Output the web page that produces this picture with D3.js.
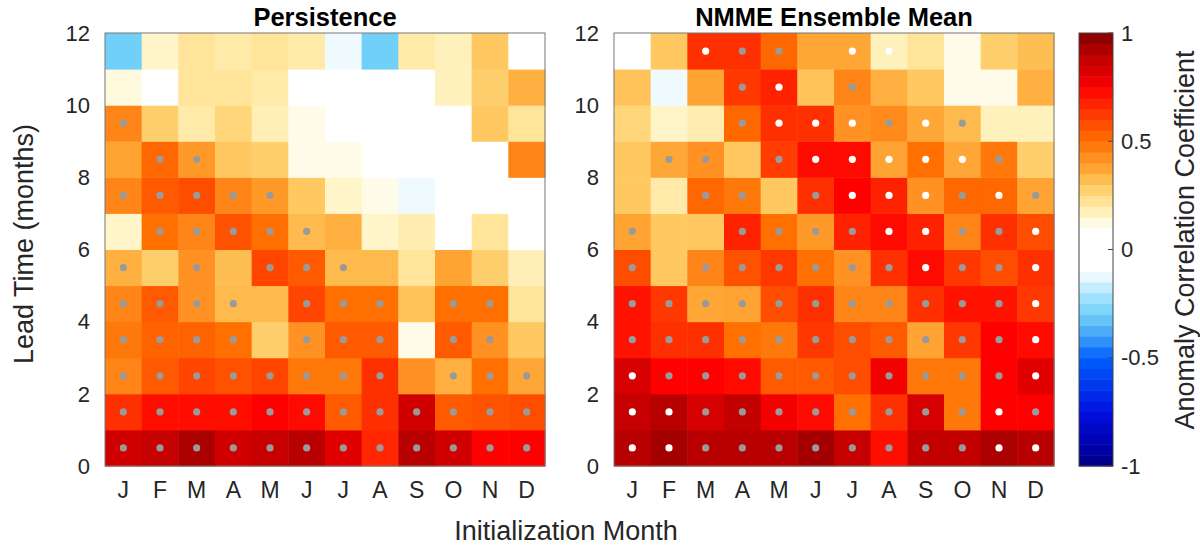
<!DOCTYPE html>
<html lang="en">
<head>
    <meta charset="UTF-8">
    <title>Anomaly correlation</title>
    <script type="text/javascript" src="https://cdn.jsdelivr.net/npm/d3@7"></script>
    <style>
        body {
            margin: 0;
            background: #fff;
        }

        text {
            font-family: "Liberation Sans", Arial, sans-serif;
            fill: #262626;
        }

        .title {
            font-weight: bold;
            font-size: 25.5px;
            fill: #000;
        }

        .tick-label {
            font-size: 22px;
        }

        .month-label {
            font-size: 23px;
        }

        .axis-label {
            font-size: 27px;
        }
    </style>
</head>
<body>
<svg width="1200" height="546"></svg>

<script>
    var months = ["J", "F", "M", "A", "M", "J", "J", "A", "S", "O", "N", "D"];
    var leadTicks = [0, 2, 4, 6, 8, 10, 12];
    var cbarTicks = [-1, -0.5, 0, 0.5, 1];

    // rows = lead 0 (bottom) .. lead 11 (top), columns = Jan .. Dec
    var persistence = [
        [0.85, 0.87, 0.93, 0.85, 0.87, 0.9, 0.8, 0.67, 0.9, 0.85, 0.75, 0.75],
        [0.65, 0.72, 0.72, 0.72, 0.75, 0.73, 0.55, 0.65, 0.85, 0.55, 0.57, 0.58],
        [0.45, 0.55, 0.6, 0.57, 0.6, 0.48, 0.48, 0.65, 0.42, 0.35, 0.5, 0.37],
        [0.48, 0.53, 0.53, 0.5, 0.28, 0.42, 0.55, 0.55, 0.12, 0.55, 0.42, 0.3],
        [0.45, 0.55, 0.42, 0.33, 0.33, 0.6, 0.5, 0.5, 0.31, 0.5, 0.5, 0.22],
        [0.35, 0.28, 0.42, 0.32, 0.6, 0.55, 0.33, 0.33, 0.22, 0.38, 0.28, 0.18],
        [0.15, 0.5, 0.45, 0.57, 0.5, 0.33, 0.35, 0.15, 0.19, 0.02, 0.22, 0.02],
        [0.45, 0.55, 0.58, 0.45, 0.4, 0.3, 0.15, 0.12, -0.12, 0.03, 0.01, 0.02],
        [0.38, 0.52, 0.4, 0.3, 0.28, 0.12, 0.12, 0.03, 0.02, 0.01, 0.04, 0.45],
        [0.45, 0.28, 0.2, 0.26, 0.18, 0.12, 0.02, -0.02, 0.01, 0.03, 0.3, 0.22],
        [0.13, 0.03, 0.22, 0.22, 0.2, 0.02, 0.01, -0.03, 0.04, 0.17, 0.28, 0.35],
        [-0.3, 0.15, 0.22, 0.2, 0.22, 0.2, -0.12, -0.3, 0.2, 0.17, 0.3, 0.02]
    ];

    var nmme = [
        [0.9, 0.94, 0.9, 0.9, 0.9, 0.94, 0.87, 0.72, 0.88, 0.88, 0.93, 0.9],
        [0.87, 0.9, 0.83, 0.88, 0.77, 0.73, 0.5, 0.65, 0.83, 0.48, 0.75, 0.75],
        [0.83, 0.75, 0.75, 0.73, 0.55, 0.55, 0.58, 0.77, 0.48, 0.48, 0.75, 0.8],
        [0.71, 0.65, 0.65, 0.5, 0.48, 0.63, 0.58, 0.55, 0.38, 0.63, 0.75, 0.73],
        [0.71, 0.63, 0.37, 0.38, 0.58, 0.65, 0.45, 0.45, 0.65, 0.71, 0.71, 0.63],
        [0.58, 0.3, 0.45, 0.57, 0.63, 0.5, 0.42, 0.65, 0.73, 0.63, 0.58, 0.65],
        [0.38, 0.3, 0.3, 0.68, 0.5, 0.4, 0.68, 0.73, 0.68, 0.45, 0.65, 0.58],
        [0.3, 0.2, 0.52, 0.48, 0.3, 0.65, 0.75, 0.68, 0.42, 0.52, 0.52, 0.38],
        [0.3, 0.37, 0.42, 0.3, 0.62, 0.73, 0.73, 0.38, 0.5, 0.37, 0.48, 0.28],
        [0.26, 0.15, 0.19, 0.52, 0.65, 0.65, 0.42, 0.44, 0.37, 0.33, 0.17, 0.17],
        [0.31, -0.12, 0.38, 0.63, 0.68, 0.31, 0.45, 0.35, 0.3, 0.12, 0.12, 0.35],
        [0.02, 0.3, 0.65, 0.65, 0.52, 0.37, 0.37, 0.17, 0.22, 0.12, 0.28, 0.32]
    ];

    // 0 = no dot, 1 = grey dot, 2 = white dot
    var persDots = [
        [1, 1, 1, 1, 1, 1, 1, 1, 1, 1, 1, 1],
        [1, 1, 1, 1, 1, 1, 1, 1, 1, 1, 1, 1],
        [1, 1, 1, 1, 1, 1, 1, 1, 0, 1, 1, 1],
        [1, 1, 1, 1, 0, 1, 1, 1, 0, 1, 1, 0],
        [1, 1, 1, 1, 0, 1, 1, 1, 0, 1, 1, 0],
        [1, 0, 1, 0, 1, 1, 1, 0, 0, 0, 0, 0],
        [0, 1, 1, 1, 1, 1, 0, 0, 0, 0, 0, 0],
        [1, 1, 1, 1, 1, 0, 0, 0, 0, 0, 0, 0],
        [0, 1, 1, 0, 0, 0, 0, 0, 0, 0, 0, 0],
        [1, 0, 0, 0, 0, 0, 0, 0, 0, 0, 0, 0],
        [0, 0, 0, 0, 0, 0, 0, 0, 0, 0, 0, 0],
        [0, 0, 0, 0, 0, 0, 0, 0, 0, 0, 0, 0]
    ];

    var nmmeDots = [
        [2, 2, 1, 1, 1, 1, 1, 1, 1, 1, 2, 2],
        [2, 2, 1, 1, 1, 1, 1, 1, 1, 1, 2, 1],
        [2, 1, 1, 1, 1, 1, 1, 1, 1, 1, 1, 2],
        [1, 1, 1, 1, 1, 1, 1, 1, 1, 1, 1, 2],
        [1, 1, 1, 1, 1, 1, 1, 1, 1, 1, 1, 2],
        [1, 0, 1, 1, 1, 1, 1, 1, 2, 1, 1, 2],
        [1, 0, 0, 1, 1, 1, 1, 2, 2, 1, 1, 2],
        [0, 0, 1, 1, 0, 1, 2, 2, 2, 1, 2, 1],
        [0, 1, 1, 0, 1, 2, 2, 2, 2, 2, 1, 0],
        [0, 0, 0, 1, 2, 2, 2, 1, 2, 1, 0, 0],
        [0, 0, 0, 1, 2, 0, 1, 0, 0, 0, 0, 0],
        [0, 0, 2, 1, 1, 0, 2, 2, 0, 0, 0, 0]
    ];

    // colour map, blue - white - yellow - red
    var cmapStops = [-1, -0.9, -0.75, -0.6, -0.5, -0.4, -0.3, -0.2, -0.1, 0.1, 0.15, 0.2, 0.25, 0.3, 0.35, 0.4, 0.45, 0.5, 0.55, 0.6, 0.65, 0.7, 0.75, 0.8, 0.85, 0.9, 0.95, 1];
    var cmapColors = ["#000080", "#0000b0", "#0010e0", "#0040f0", "#0060ff", "#40a0f8", "#70d0f8", "#b0e8ff", "#ffffff", "#ffffff", "#fff5c8", "#ffeaaa", "#ffda80", "#ffc860", "#ffb040", "#ff9a28", "#ff8518", "#ff7000", "#ff5a00", "#ff4500", "#ff3000", "#ff1800", "#ff0000", "#e00000", "#d00000", "#b80000", "#a00000", "#800000"];

    var color = d3.scaleLinear()
        .domain(cmapStops)
        .range(cmapColors)
        .clamp(true);

    var svg = d3.select("svg");

    var plotTop = 33,
        plotH = 433,
        plotW = 440;

    var panels = [
        {title: "Persistence", x0: 105, values: persistence, dots: persDots},
        {title: "NMME Ensemble Mean", x0: 614, values: nmme, dots: nmmeDots}
    ];

    var y = d3.scaleLinear().domain([0, 12]).range([plotTop + plotH, plotTop]);

    panels.forEach(function (p) {
        var x = d3.scaleBand().domain(d3.range(12)).range([p.x0, p.x0 + plotW]);
        var g = svg.append("g");

        var cells = [];
        p.values.forEach(function (row, r) {
            row.forEach(function (v, c) {
                cells.push({lead: r, month: c, value: v, dot: p.dots[r][c]});
            });
        });

        g.selectAll("rect.cell")
            .data(cells)
            .enter()
            .append("rect")
            .attr("class", "cell")
            .attr("x", function (d) { return x(d.month); })
            .attr("y", function (d) { return y(d.lead + 1); })
            .attr("width", x.bandwidth() + 0.5)
            .attr("height", y(0) - y(1) + 0.5)
            .attr("fill", function (d) { return color(d.value); });

        g.selectAll("circle.sig")
            .data(cells.filter(function (d) { return d.dot > 0; }))
            .enter()
            .append("circle")
            .attr("class", "sig")
            .attr("cx", function (d) { return x(d.month) + x.bandwidth() / 2; })
            .attr("cy", function (d) { return y(d.lead + 0.5); })
            .attr("r", 3.6)
            .attr("fill", function (d) { return d.dot === 2 ? "#ffffff" : "#9a9a9a"; });

        // frame
        g.append("rect")
            .attr("x", p.x0)
            .attr("y", plotTop)
            .attr("width", plotW)
            .attr("height", plotH)
            .attr("fill", "none")
            .attr("stroke", "#777")
            .attr("stroke-width", 1);

        // y ticks
        g.selectAll("text.ytick")
            .data(leadTicks)
            .enter()
            .append("text")
            .attr("class", "tick-label")
            .attr("x", p.x0 - 15)
            .attr("y", function (d) { return y(d); })
            .attr("dy", "0.35em")
            .attr("text-anchor", "end")
            .text(function (d) { return d; });

        // x ticks
        g.selectAll("text.xtick")
            .data(months)
            .enter()
            .append("text")
            .attr("class", "month-label")
            .attr("x", function (d, i) { return x(i) + x.bandwidth() / 2; })
            .attr("y", plotTop + plotH + 32)
            .attr("text-anchor", "middle")
            .text(function (d) { return d; });

        g.append("text")
            .attr("class", "title")
            .attr("x", p.x0 + plotW / 2)
            .attr("y", 26)
            .attr("text-anchor", "middle")
            .text(p.title);
    });

    svg.append("text")
        .attr("class", "axis-label")
        .attr("transform", "translate(33," + 244 + ") rotate(-90)")
        .attr("text-anchor", "middle")
        .text("Lead Time (months)");

    svg.append("text")
        .attr("class", "axis-label")
        .attr("x", 566)
        .attr("y", 540)
        .attr("text-anchor", "middle")
        .text("Initialization Month");

    // colour bar
    var cbX = 1079,
        cbW = 34,
        nBands = 40;
    var cbY = d3.scaleLinear().domain([-1, 1]).range([plotTop + plotH, plotTop]);
    var step = 2 / nBands;
    var bands = d3.range(nBands).map(function (i) { return -1 + i * step; });

    svg.append("g")
        .selectAll("rect")
        .data(bands)
        .enter()
        .append("rect")
        .attr("x", cbX)
        .attr("y", function (d) { return cbY(d + step); })
        .attr("width", cbW)
        .attr("height", cbY(0) - cbY(step) + 0.5)
        .attr("fill", function (d) { return color(d + step / 2); });

    svg.append("rect")
        .attr("x", cbX)
        .attr("y", plotTop)
        .attr("width", cbW)
        .attr("height", plotH)
        .attr("fill", "none")
        .attr("stroke", "#444")
        .attr("stroke-width", 1);

    svg.append("g")
        .selectAll("line")
        .data(cbarTicks)
        .enter()
        .append("line")
        .attr("x1", cbX + cbW - 5)
        .attr("x2", cbX + cbW)
        .attr("y1", function (d) { return cbY(d); })
        .attr("y2", function (d) { return cbY(d); })
        .attr("stroke", "#444");

    svg.append("g")
        .selectAll("text")
        .data(cbarTicks)
        .enter()
        .append("text")
        .attr("class", "tick-label")
        .attr("x", cbX + cbW + 8)
        .attr("y", function (d) { return cbY(d); })
        .attr("dy", "0.35em")
        .text(function (d) { return d; });

    svg.append("text")
        .attr("class", "axis-label")
        .attr("transform", "translate(1194," + 240 + ") rotate(-90)")
        .attr("text-anchor", "middle")
        .text("Anomaly Correlation Coefficient");
</script>
</body>
</html>
